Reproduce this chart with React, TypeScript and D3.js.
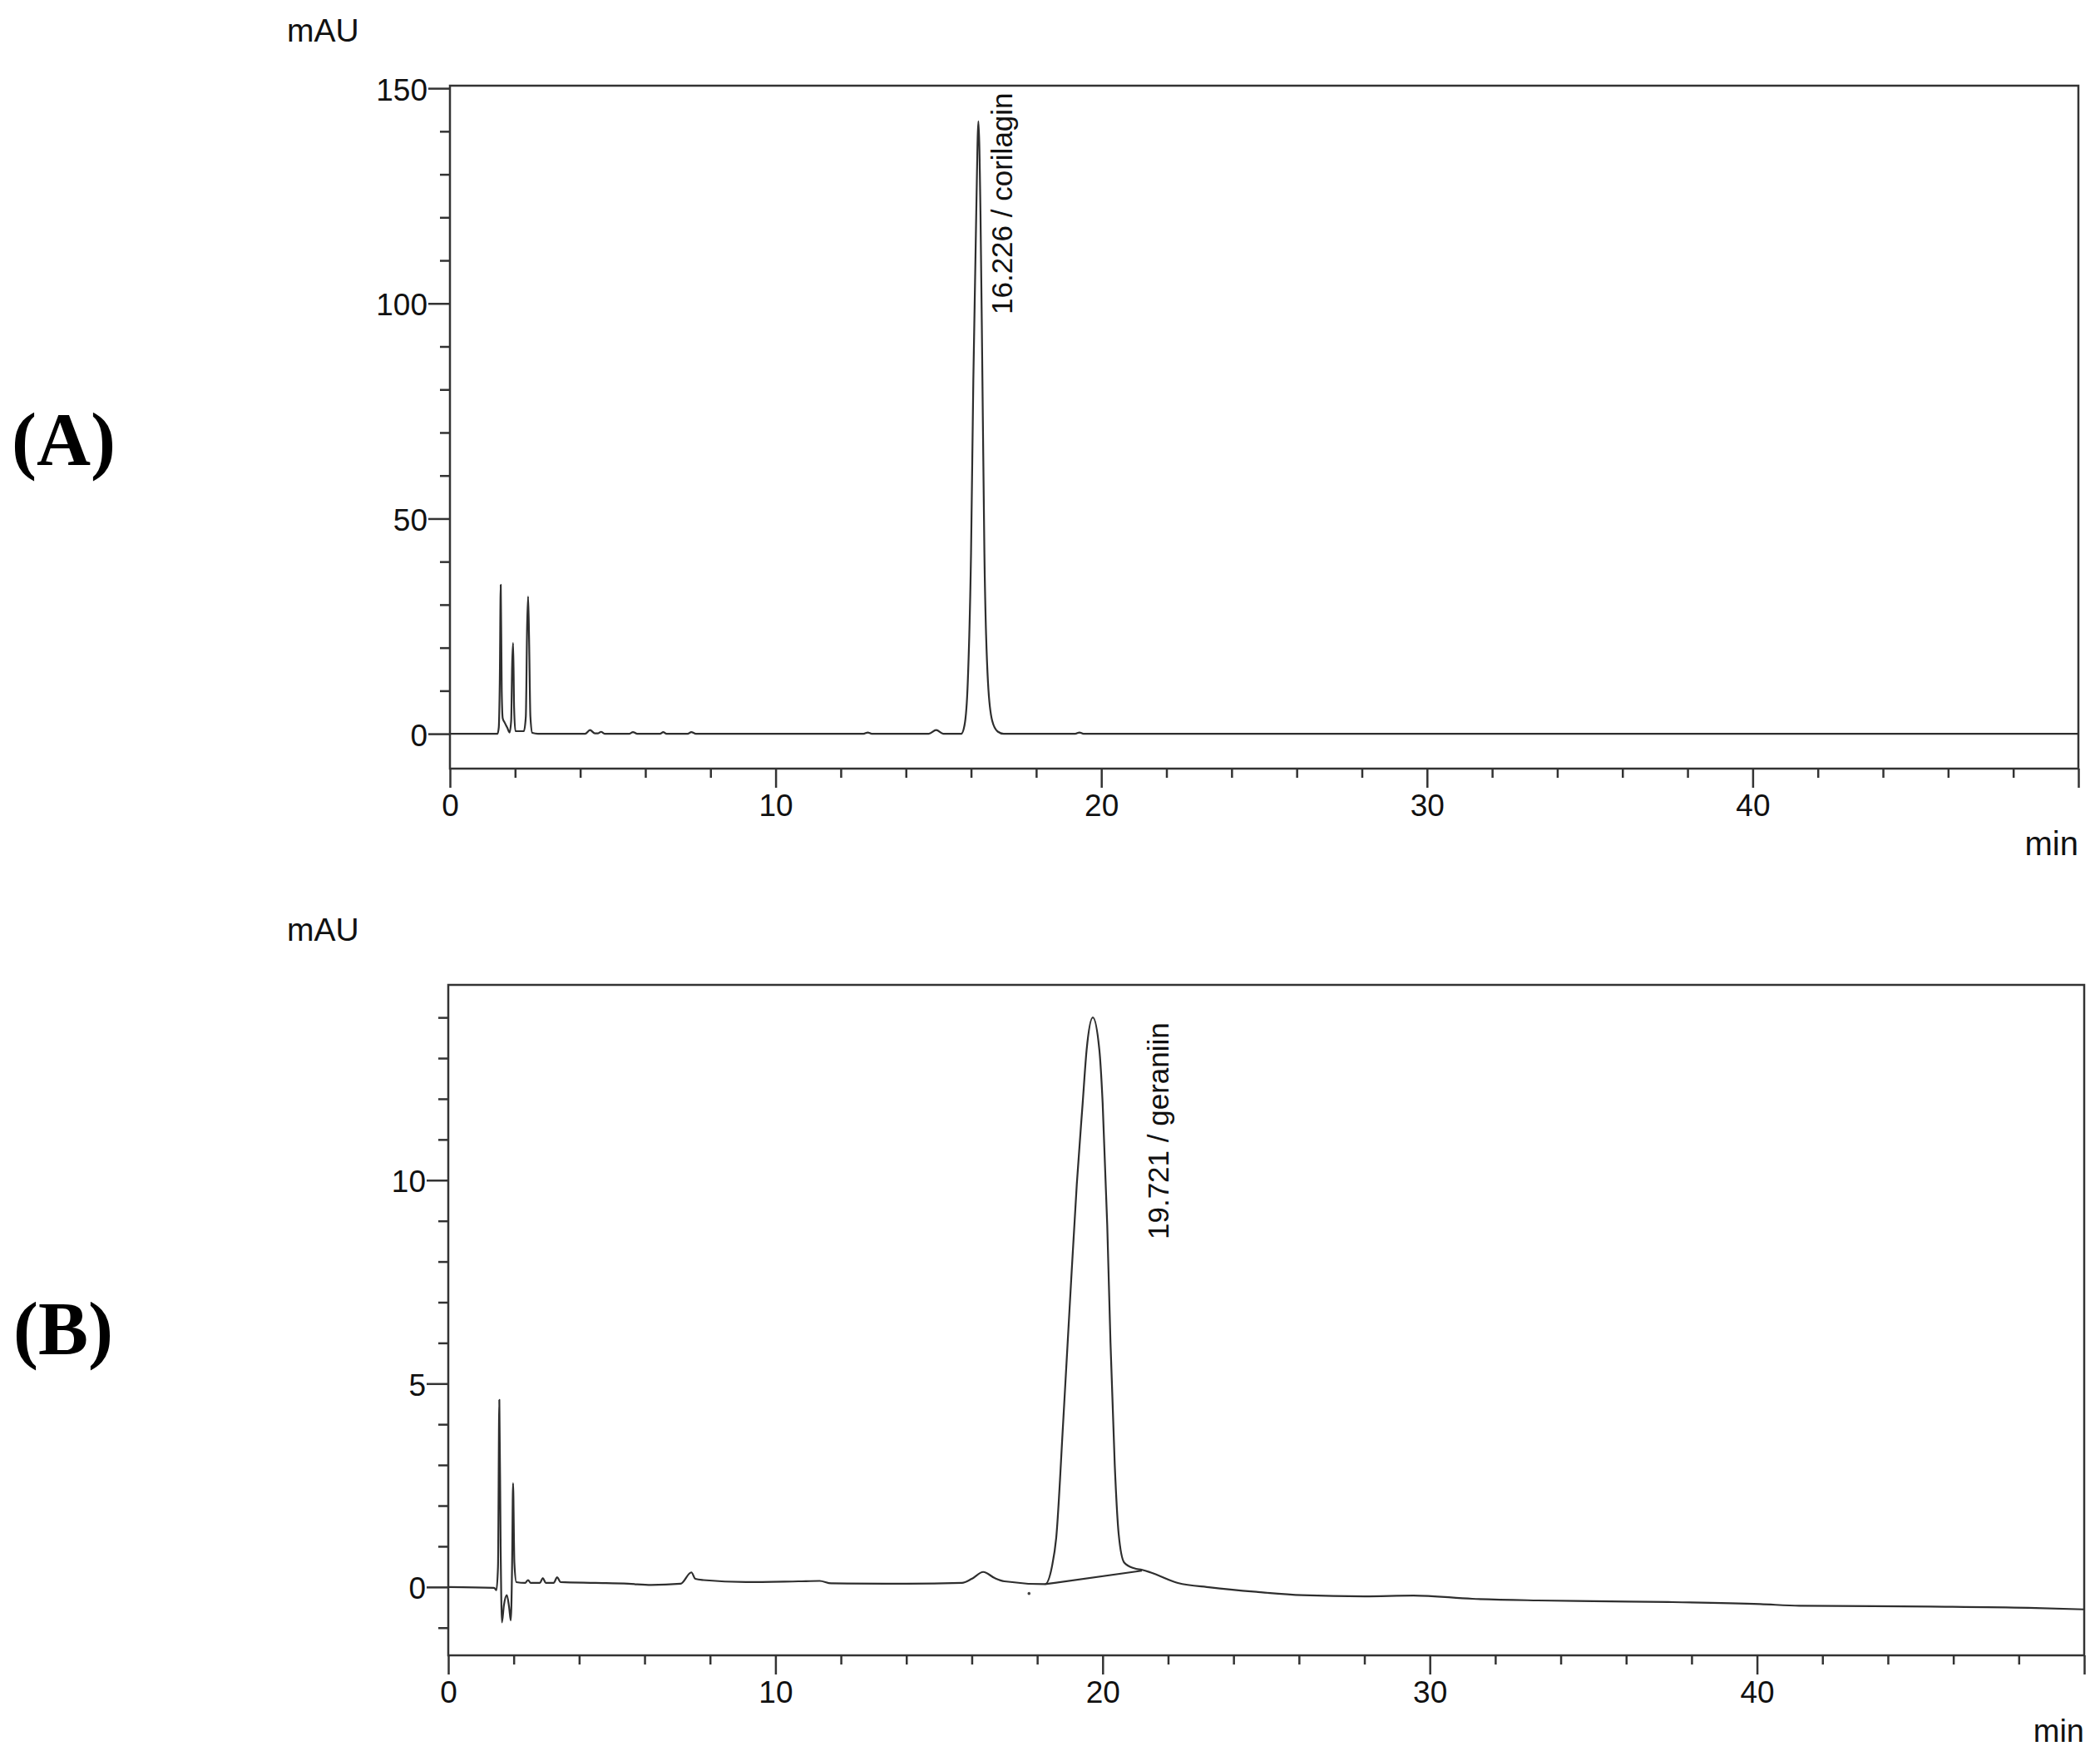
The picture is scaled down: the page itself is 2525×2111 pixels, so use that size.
import * as d3 from "d3";
import { useEffect, useRef } from "react";

// retention time axis (min)
const timeTicks = [0, 10, 20, 30, 40];
const timeMinorTicks = [2, 4, 6, 8, 12, 14, 16, 18, 22, 24, 26, 28, 32, 34, 36, 38, 42, 44, 46, 48];

// (A) corilagin standard, mAU vs min
const corilaginTrace: [number, number][] = [
    [0, 0], [1.46, 0], [1.5, 1.5], [1.53, 12], [1.56, 34.6], [1.59, 10], [1.62, 3.6],
    [1.68, 2.6], [1.76, 1.4], [1.83, 0.3], [1.88, 3], [1.91, 16], [1.94, 21.1], [1.97, 6],
    [2.01, 0.6], [2.27, 0.6], [2.33, 4], [2.37, 25], [2.4, 31.9], [2.43, 22], [2.47, 4],
    [2.53, 0.2], [2.7, 0], [4.15, 0], [4.3, 0.85], [4.45, 0.1], [4.55, 0.1], [4.64, 0.45],
    [4.75, 0], [5.5, 0], [5.62, 0.4], [5.75, 0], [6.45, 0], [6.55, 0.4], [6.65, 0],
    [7.3, 0], [7.41, 0.4], [7.55, 0], [12.7, 0], [12.83, 0.3], [12.95, 0], [14.7, 0],
    [14.93, 0.85], [15.15, 0], [15.7, 0], [15.8, 2], [15.9, 12], [16.0, 42], [16.07, 82],
    [16.16, 121], [16.226, 142.3], [16.29, 121], [16.35, 82], [16.41, 42], [16.52, 12],
    [16.65, 3], [16.82, 0.5], [17.0, 0], [19.2, 0], [19.33, 0.3], [19.45, 0], [50, 0],
];
const corilaginTicks = [0, 50, 100, 150];

// (B) geraniin standard, mAU vs min
const geraniinTrace: [number, number][] = [
    [0, 0], [1.4, -0.02], [1.47, -0.08], [1.52, 0.5], [1.56, 4.6], [1.6, 1.0], [1.64, -0.87],
    [1.7, -0.45], [1.79, -0.2], [1.86, -0.5], [1.91, -0.82], [1.95, 0.5], [1.98, 2.55],
    [2.02, 0.6], [2.08, 0.12], [2.35, 0.1], [2.44, 0.17], [2.52, 0.1], [2.8, 0.1],
    [2.89, 0.22], [2.98, 0.1], [3.22, 0.1], [3.33, 0.24], [3.43, 0.12], [4.5, 0.1],
    [5.5, 0.08], [6.2, 0.05], [7.1, 0.08], [7.43, 0.36], [7.55, 0.2], [7.8, 0.17],
    [9.1, 0.12], [10.7, 0.14], [11.35, 0.15], [11.7, 0.09], [14.0, 0.08], [15.7, 0.1],
    [16.0, 0.2], [16.35, 0.37], [16.7, 0.22], [17.0, 0.14], [18.24, 0.07], [18.45, 0.5],
    [18.58, 1.2], [18.79, 4.0], [19.0, 7.0], [19.21, 9.9], [19.39, 11.9], [19.51, 13.2],
    [19.7, 14.0], [19.9, 13.2], [20.0, 11.9], [20.14, 8.9], [20.24, 6.0], [20.37, 3.0],
    [20.49, 1.3], [20.66, 0.6], [20.96, 0.46], [21.21, 0.42], [21.46, 0.36], [22.3, 0.1],
    [23.3, -0.01], [24.7, -0.12], [26.1, -0.2], [28.0, -0.23], [29.5, -0.21], [31.3, -0.29],
    [33.3, -0.33], [35.0, -0.35], [37.3, -0.37], [40.1, -0.42], [41.3, -0.46], [45.3, -0.48],
    [48.3, -0.51], [50, -0.55],
];
const geraniinBaseline: [number, number][] = [[18.24, 0.07], [21.2, 0.4]];
const geraniinDots: [number, number][] = [[17.75, -0.16]];
const geraniinTicks = [0, 5, 10];

const axisColor = "#333";
const font = "'Liberation Sans', Arial, sans-serif";

const panels = [
    {
        letter: "(A)", letterX: 14, letterY: 559,
        trace: corilaginTrace, integration: [] as [number, number][], dots: [] as [number, number][],
        yTicks: corilaginTicks, yMinor: d3.range(10, 150, 10).filter((v) => v % 50 !== 0),
        yDomain: [-8.1, 150.6], left: 541, right: 2499, top: 103, bottom: 924,
        peak: { rt: 16.226, text: "16.226 / corilagin", dx: 41, yEnd: 378 },
        unitY: 50, minSize: 40,
    },
    {
        letter: "(B)", letterX: 16, letterY: 1628,
        trace: geraniinTrace, integration: geraniinBaseline, dots: geraniinDots,
        yTicks: geraniinTicks, yMinor: d3.range(-1, 15, 1).filter((v) => v % 5 !== 0),
        yDomain: [-1.68, 14.8], left: 539, right: 2506, top: 1184, bottom: 1990,
        peak: { rt: 19.721, text: "19.721 / geraniin", dx: 90, yEnd: 1490 },
        unitY: 1131, minSize: 38,
    },
];

const App = () => {
    const ref = useRef<SVGSVGElement>(null);

    useEffect(() => {
        const svg = d3.select(ref.current);
        svg.selectAll("*").remove();

        panels.forEach((p) => {
            const x = d3.scaleLinear().domain([0, 50]).range([p.left, p.right]);
            const y = d3.scaleLinear().domain(p.yDomain).range([p.bottom, p.top]);
            const g = svg.append("g");

            const styleAxis = (sel) => {
                sel.select(".domain").remove();
                sel.selectAll("line").attr("stroke", axisColor).attr("stroke-width", 2.5);
                sel.selectAll("text")
                    .attr("fill", "#111")
                    .style("font-family", font)
                    .style("font-size", "37px");
            };

            // x axis: minor then major ticks
            g.append("g")
                .attr("transform", `translate(0,${p.bottom})`)
                .call(d3.axisBottom(x).tickValues(timeMinorTicks).tickSize(11).tickFormat(() => ""))
                .call(styleAxis);
            g.append("g")
                .attr("transform", `translate(0,${p.bottom})`)
                .call(d3.axisBottom(x).tickValues([...timeTicks, 50]).tickSize(23).tickPadding(8)
                    .tickFormat((d) => (d === 50 ? "" : String(d))))
                .call(styleAxis);

            // y axis
            g.append("g")
                .attr("transform", `translate(${p.left},0)`)
                .call(d3.axisLeft(y).tickValues(p.yMinor).tickSize(12).tickFormat(() => ""))
                .call(styleAxis);
            g.append("g")
                .attr("transform", `translate(${p.left},0)`)
                .call(d3.axisLeft(y).tickValues(p.yTicks).tickSize(26).tickPadding(1))
                .call(styleAxis)
                .call((s) => s.selectAll("text").attr("dy", "0.38em"));

            // frame
            g.append("rect")
                .attr("x", p.left).attr("y", p.top)
                .attr("width", p.right - p.left).attr("height", p.bottom - p.top)
                .attr("fill", "none").attr("stroke", axisColor).attr("stroke-width", 2.5);

            const line = d3.line<[number, number]>()
                .x((d) => x(d[0]))
                .y((d) => y(d[1]))
                .curve(d3.curveMonotoneX);

            g.append("path")
                .attr("d", line(p.trace))
                .attr("fill", "none").attr("stroke", "#2e2e2e").attr("stroke-width", 2.2)
                .attr("stroke-linejoin", "round");

            if (p.integration.length) {
                g.append("path")
                    .attr("d", d3.line<[number, number]>().x((d) => x(d[0])).y((d) => y(d[1]))(p.integration))
                    .attr("fill", "none").attr("stroke", "#2e2e2e").attr("stroke-width", 2.2);
            }

            g.selectAll(".dot").data(p.dots).join("circle")
                .attr("cx", (d) => x(d[0])).attr("cy", (d) => y(d[1]))
                .attr("r", 1.8).attr("fill", "#444");

            // peak annotation
            g.append("text")
                .attr("transform", `translate(${x(p.peak.rt) + p.peak.dx},${p.peak.yEnd}) rotate(-90)`)
                .style("font-family", font).style("font-size", "35px").attr("fill", "#111")
                .text(p.peak.text);

            // units
            g.append("text")
                .attr("x", 345).attr("y", p.unitY)
                .style("font-family", font).style("font-size", "39px").attr("fill", "#111")
                .text("mAU");
            g.append("text")
                .attr("x", p.right).attr("y", p.bottom + 104)
                .attr("text-anchor", "end")
                .style("font-family", font).style("font-size", `${p.minSize}px`).attr("fill", "#111")
                .text("min");

            // panel letter
            g.append("text")
                .attr("x", p.letterX).attr("y", p.letterY)
                .style("font-family", "'Liberation Serif', 'Times New Roman', serif")
                .style("font-size", "90px").style("font-weight", "bold").attr("fill", "#000")
                .text(p.letter);
        });
    }, []);

    return (
        <svg ref={ref} width={2525} height={2111}
            style={{ position: "absolute", left: 0, top: 0, background: "#fff" }}>
        </svg>
    );
};

export default App;
